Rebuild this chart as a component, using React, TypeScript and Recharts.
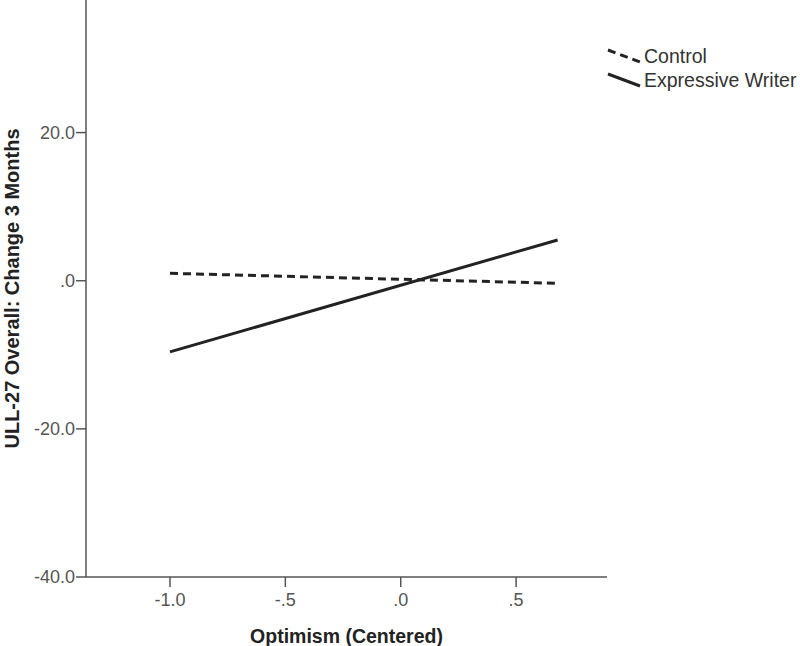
import { LineChart, Line, XAxis, YAxis, Legend } from "recharts";

const optimism = [-1.0, 0.68];
const controlValues = [1.0, -0.35];
const expressiveValues = [-9.6, 5.5];
const xTicks = [-1.0, -0.5, 0, 0.5];
const yTicks = [-40, -20, 0, 20];

const data = optimism.map((x, i) => ({
  x,
  control: controlValues[i],
  expressive: expressiveValues[i],
}));

// SPSS style: drop the leading zero, keep one decimal
const fmt = (v: number) => {
  const s = v.toFixed(1);
  return s.replace(/^(-?)0\./, "$1.");
};

const FONT = "'Liberation Sans', Arial, sans-serif";

const renderLegend = (props: any) => {
  const items = props.payload || [];
  return (
    <div style={{ fontFamily: FONT, fontSize: 19.5, color: "#333" }}>
      {items.map((it: any) => (
        <div key={it.value} style={{ display: "flex", alignItems: "center", height: 24 }}>
          <svg width={37} height={16} style={{ marginRight: 1 }}>
            <line
              x1={2}
              y1={2}
              x2={34}
              y2={14}
              stroke="#222"
              strokeWidth={3}
              strokeDasharray={it.payload?.strokeDasharray}
            />
          </svg>
          <span>{it.value}</span>
        </div>
      ))}
    </div>
  );
};

export default function App() {
  return (
    <div style={{ position: "absolute", left: 0, top: 0, background: "#fff" }}>
      <LineChart width={800} height={646} data={data} margin={{ top: 0, right: 193, bottom: 0, left: 0 }}>
        <XAxis
          dataKey="x"
          type="number"
          domain={[-1.364, 0.894]}
          ticks={xTicks}
          tickFormatter={fmt}
          allowDataOverflow
          height={69}
          tickSize={10}
          tick={{ fill: "#555", fontSize: 18, fontFamily: FONT, dy: 4 }}
          axisLine={{ stroke: "#555", strokeWidth: 1.5 }}
          tickLine={{ stroke: "#555", strokeWidth: 1.5 }}
          label={{
            value: "Optimism (Centered)",
            position: "insideBottom",
            offset: 3,
            style: { fill: "#222", fontSize: 19.5, fontWeight: "bold", fontFamily: FONT },
          }}
        />
        <YAxis
          type="number"
          domain={[-40, 37.9]}
          ticks={yTicks}
          tickFormatter={fmt}
          allowDataOverflow
          width={86}
          tickSize={10}
          tick={{ fill: "#555", fontSize: 18, fontFamily: FONT, dx: 1 }}
          axisLine={{ stroke: "#555", strokeWidth: 1.5 }}
          tickLine={{ stroke: "#555", strokeWidth: 1.5 }}
          label={{
            value: "ULL-27 Overall: Change 3 Months",
            angle: -90,
            position: "center",
            dx: -31,
            style: { fill: "#222", fontSize: 20, fontWeight: "bold", fontFamily: FONT },
          }}
        />
        <Legend
          content={renderLegend}
          layout="horizontal"
          verticalAlign="middle"
          align="center"
          wrapperStyle={{ position: "absolute", left: 606, top: 44, width: 194 }}
        />
        <Line
          type="linear"
          dataKey="control"
          name="Control"
          stroke="#222"
          strokeWidth={3}
          strokeDasharray="8 5"
          dot={false}
          isAnimationActive={false}
        />
        <Line
          type="linear"
          dataKey="expressive"
          name="Expressive Writer"
          stroke="#222"
          strokeWidth={3}
          dot={false}
          isAnimationActive={false}
        />
      </LineChart>
    </div>
  );
}
